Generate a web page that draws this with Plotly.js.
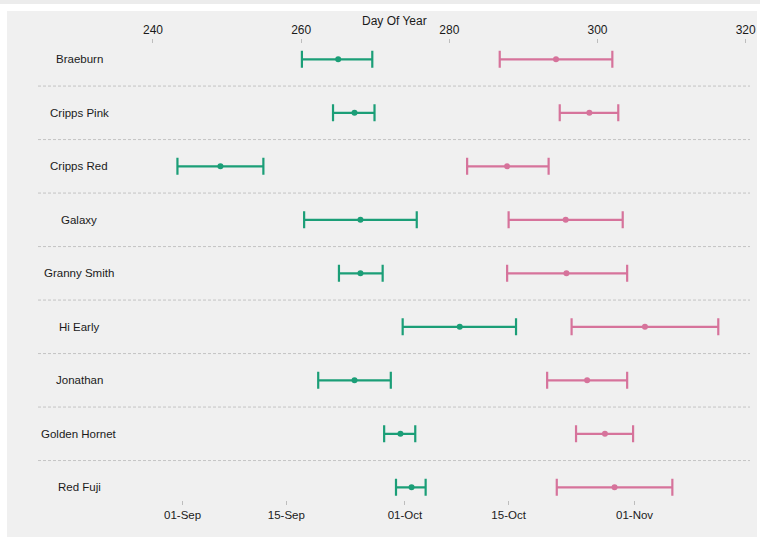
<!DOCTYPE html>
<html>
<head>
<meta charset="utf-8">
<script src="https://cdn.plot.ly/plotly-3.0.1.min.js"></script>
<style>
  html, body { margin: 0; padding: 0; background: #ffffff; width: 760px; height: 537px; overflow: hidden; }
  #strip { position: absolute; left: 0; top: 0; width: 760px; height: 4px; background: #ececec; }
  #chart { position: absolute; left: 7px; top: 11px; width: 750px; height: 526px; }
</style>
</head>
<body>
<div id="strip"></div>
<div id="chart"></div>
<script>
// Varieties, top to bottom
const varieties = ["Braeburn", "Cripps Pink", "Cripps Red", "Galaxy", "Granny Smith",
                   "Hi Early", "Jonathan", "Golden Hornet", "Red Fuji"];

// Green series (day of year): mean, low, high
const greenMean = [265.0, 267.2, 249.1, 268.0, 268.0, 281.4, 267.2, 273.4, 274.9];
const greenLow  = [260.1, 264.3, 243.3, 260.4, 265.1, 273.7, 262.3, 271.2, 272.8];
const greenHigh = [269.6, 269.9, 254.9, 275.6, 271.0, 289.0, 272.1, 275.4, 276.8];

// Pink series (day of year): mean, low, high
const pinkMean = [294.4, 298.9, 287.8, 295.7, 295.8, 306.4, 298.6, 301.0, 302.3];
const pinkLow  = [286.8, 294.9, 282.4, 288.0, 287.8, 296.5, 293.2, 297.1, 294.5];
const pinkHigh = [302.0, 302.8, 293.4, 303.4, 304.0, 316.3, 304.0, 304.8, 310.1];

// Axis ticks
const dayTicks = [240, 260, 280, 300, 320];
const dateTickVals = [244, 258, 274, 288, 305];
const dateTickText = ["01-Sep", "15-Sep", "01-Oct", "15-Oct", "01-Nov"];

const GREEN = "#1b9e77";
const PINK = "#d6739b";

function errTrace(mean, low, high, color) {
  return {
    type: "scatter", mode: "markers",
    x: mean, y: varieties,
    xaxis: "x", yaxis: "y",
    marker: { color: color, size: 6 },
    error_x: {
      type: "data", symmetric: false,
      array: high.map((h, i) => h - mean[i]),
      arrayminus: low.map((l, i) => mean[i] - l),
      color: color, thickness: 2.2, width: 8.5
    },
    hoverinfo: "x+y", showlegend: false
  };
}

const traces = [
  errTrace(greenMean, greenLow, greenHigh, GREEN),
  errTrace(pinkMean, pinkLow, pinkHigh, PINK),
  { type: "scatter", mode: "markers", x: greenMean, y: varieties, xaxis: "x2", yaxis: "y",
    marker: { opacity: 0 }, hoverinfo: "skip", showlegend: false }
];

const xRange = [224.48, 320.58];
const font = { family: "Liberation Sans, Arial, sans-serif", size: 12, color: "#1a1a1a" };

const shapes = [];
for (let i = 0; i < varieties.length - 1; i++) {
  shapes.push({ type: "line", xref: "paper", yref: "y", x0: 0, x1: 1, y0: i + 0.5, y1: i + 0.5,
    line: { color: "#c4c4c4", width: 1, dash: "3px,2px" }, layer: "below" });
}

const annotations = varieties.map(v => ({
  xref: "paper", yref: "y", x: 0.0576, y: v, text: v, showarrow: false,
  xanchor: "center", yanchor: "middle",
  font: { family: font.family, size: 11.5, color: "#1a1a1a" }
}));
annotations.push({
  xref: "paper", yref: "paper", x: 0.5, y: 1.05, text: "Day Of Year", showarrow: false,
  xanchor: "center", yanchor: "middle",
  font: { family: font.family, size: 12, color: "#1a1a1a" }
});

const layout = {
  width: 750, height: 526,
  margin: { l: 31, r: 7, t: 33, b: 37 },
  paper_bgcolor: "#f0f0f0", plot_bgcolor: "#f0f0f0",
  font: font,
  showlegend: false,
  xaxis: {
    range: xRange, tickvals: dateTickVals, ticktext: dateTickText,
    ticks: "outside", ticklen: 4, tickcolor: "#bdbdbd", tickwidth: 1,
    showgrid: false, zeroline: false, showline: false,
    tickfont: { family: font.family, size: 11.5, color: "#1a1a1a" }
  },
  xaxis2: {
    range: xRange, overlaying: "x", side: "top", anchor: "y",
    tickvals: dayTicks, ticks: "outside", ticklen: 4, tickcolor: "#bdbdbd", tickwidth: 1,
    showgrid: false, zeroline: false, showline: false,
    tickfont: { family: font.family, size: 12, color: "#1a1a1a" }
  },
  yaxis: {
    type: "category", categoryarray: varieties, categoryorder: "array",
    range: [8.237, -0.286],
    showticklabels: false, ticks: "", showgrid: false, zeroline: false, showline: false
  },
  shapes: shapes,
  annotations: annotations
};

Plotly.newPlot("chart", traces, layout, { displayModeBar: false, staticPlot: true });
</script>
</body>
</html>
